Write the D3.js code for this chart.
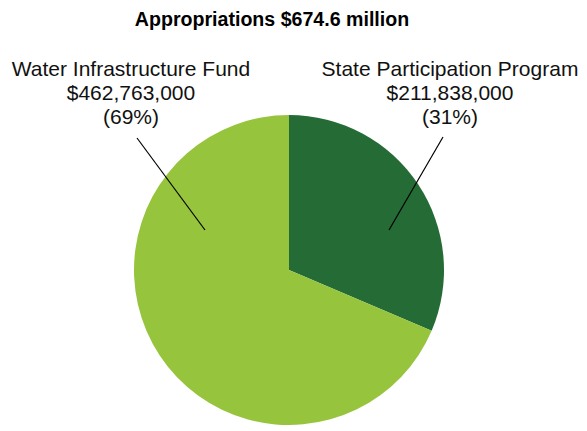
<!DOCTYPE html>
<html><head><meta charset="utf-8">
<script src="https://cdn.jsdelivr.net/npm/d3@7"></script>
<style>body{margin:0;background:#fff;}svg{display:block;font-family:"Liberation Sans",Arial,sans-serif;}</style>
</head><body>
<svg id="c" width="587" height="431"></svg>
<script>
const categories = ["State Participation Program", "Water Infrastructure Fund"];
const values = [211838000, 462763000];
const percents = ["(31%)", "(69%)"];
const colors = ["#246b35", "#97c43d"];
const title = "Appropriations $674.6 million";

const svg = d3.select("#c");
const cx = 289, cy = 270, r = 155;
svg.append("text").attr("x", 272).attr("y", 26).attr("text-anchor", "middle")
  .attr("font-weight", "bold").attr("font-size", 19.6).text(title);

const pie = d3.pie().sort(null).value(d => d)(values);
const arc = d3.arc().innerRadius(0).outerRadius(r);
const g = svg.append("g").attr("transform", `translate(${cx},${cy})`);
g.selectAll("path").data(pie).join("path").attr("d", arc).attr("fill", (d, i) => colors[i]);

const fmt = d3.format("$,");
const labelX = [450, 131];
const lines = [[443, 137, 389, 230], [137, 138, 205, 230]];
categories.forEach((c, i) => {
  const t = svg.append("text").attr("text-anchor", "middle").attr("font-size", 21).attr("fill", "#111");
  [c, fmt(values[i]), percents[i]].forEach((s, j) => {
    t.append("tspan").attr("x", labelX[i]).attr("y", 76 + j * 24).text(s);
  });
  const l = lines[i];
  svg.append("line").attr("x1", l[0]).attr("y1", l[1]).attr("x2", l[2]).attr("y2", l[3])
    .attr("stroke", "#000").attr("stroke-width", 1.2);
});
</script>
</body></html>
